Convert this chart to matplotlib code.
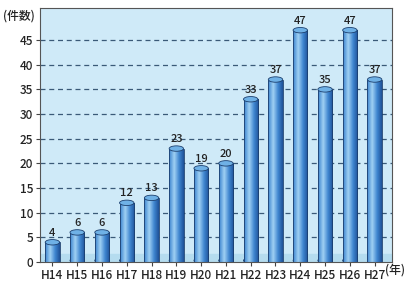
import numpy as np
import matplotlib
matplotlib.use('Agg')
import matplotlib.pyplot as plt
from matplotlib.patches import Ellipse

plt.rcParams['font.family'] = ['Noto Sans CJK JP', 'DejaVu Sans']

years = ['H14', 'H15', 'H16', 'H17', 'H18', 'H19', 'H20',
         'H21', 'H22', 'H23', 'H24', 'H25', 'H26', 'H27']
counts = [4, 6, 6, 12, 13, 23, 19, 20, 33, 37, 47, 35, 47, 37]
yticks = [0, 5, 10, 15, 20, 25, 30, 35, 40, 45]

fig = plt.figure(figsize=(4.07, 2.87), dpi=100)
ax = fig.add_axes([40 / 407, 1 - 262 / 287, 352 / 407, 254 / 287])
ax.set_facecolor('#cfeaf8')
ax.set_xlim(-0.5, 13.7)
ax.set_ylim(0, 51.5)

# floor band
ax.axhspan(0, 1.6, color='#b5dcef', zorder=0.5)

for t in yticks[1:]:
    ax.axhline(t, color='#3a5a78', lw=0.9, ls=(0, (4, 3)), zorder=1)

# gradient for cylinder
grad = np.linspace(0, 1, 64)
shade = np.clip(1 - np.abs(grad - 0.35) * 1.5, 0, 1)
cmap = matplotlib.colors.LinearSegmentedColormap.from_list(
    'cyl', ['#1d4f95', '#3f86d0', '#9fd0f3'])
img = shade[np.newaxis, :]

w = 0.58
bars = ax.bar(np.arange(len(years)), counts, width=w, color='none',
              edgecolor='#1c3f6e', lw=0.6, zorder=3)
for i, (b, v) in enumerate(zip(bars, counts)):
    x0 = i - w / 2
    im = ax.imshow(img, cmap=cmap, aspect='auto',
                   extent=(x0, x0 + w, 0, v), zorder=2, vmin=0, vmax=1)
    im.set_clip_path(b)
    ax.add_patch(Ellipse((i, v), w, 1.1, facecolor='#6fb1e6',
                         edgecolor='#1c3f6e', lw=0.6, zorder=4))
    ax.add_patch(Ellipse((i, 0.3), w, 1.1, facecolor='#2d6db5',
                         edgecolor='#1c3f6e', lw=0.6, zorder=1.8))
    ax.text(i, v + 0.9, str(v), ha='center', va='bottom',
            fontsize=8, color='#222222', fontweight='medium', zorder=5)

ax.set_xticks(np.arange(len(years)))
ax.set_xticklabels(years, fontsize=8.5, color='#222222', fontweight='medium')
ax.set_yticks(yticks)
ax.set_yticklabels([str(t) for t in yticks], fontsize=8.5, color='#222222',
                   fontweight='medium')
ax.tick_params(axis='both', length=3, color='#444444', pad=2)
for s in ax.spines.values():
    s.set_color('#555555')
    s.set_linewidth(0.8)

fig.text(3 / 407, 1 - 16 / 287, '(件数)', fontsize=8.5, color='#222222',
         va='center', ha='left', fontweight='medium')
fig.text(405 / 407, 1 - 270 / 287, '(年)', fontsize=8.5, color='#222222',
         va='center', ha='right', fontweight='medium')

fig.savefig('out.png', dpi=100)
